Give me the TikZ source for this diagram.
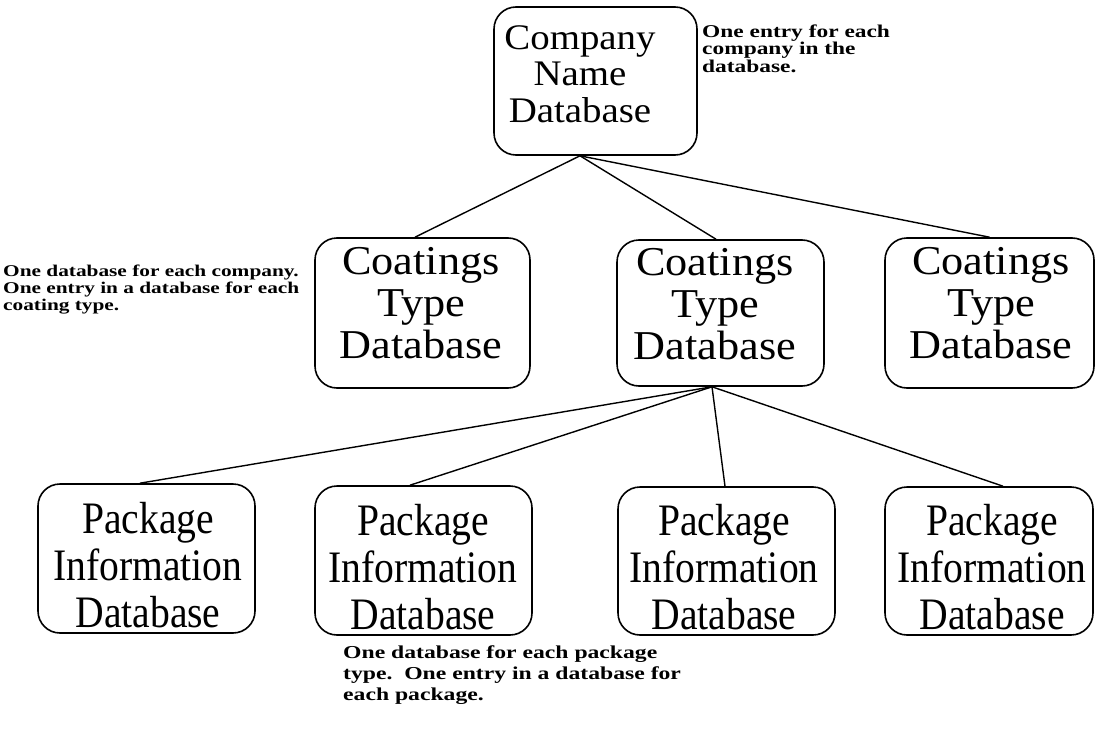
\documentclass[tikz,border=0pt]{standalone}
\usepackage{fontspec}
\setmainfont{Liberation Serif}
\newfontfamily\bigfont[FakeStretch=1.08]{Liberation Serif}
\newfontfamily\pkgfont[FakeStretch=0.88]{Liberation Serif}
\newfontfamily\notefont[FakeStretch=1.3]{Liberation Serif}
\begin{document}
\begin{tikzpicture}[x=1pt,y=-1pt,
  dbbox/.style={draw, line width=1.6pt, rounded corners=22pt, inner sep=0pt},
  link/.style={line width=1.4pt},
  toptxt/.style={font=\bigfont\fontsize{36}{36.5}\selectfont, align=center, inner sep=0pt},
  coattxt/.style={font=\bigfont\fontsize{41}{42}\selectfont, align=center, inner sep=0pt},
  pkgtxt/.style={font=\pkgfont\fontsize{45}{47}\selectfont, align=center, inner sep=0pt},
  notetxt/.style={align=left, inner sep=0pt, anchor=north west}]
\useasboundingbox (0,0) rectangle (1096,736);

% top level
\node[dbbox, minimum width=203pt, minimum height=148pt] (top) at (595.5,81) {};
\node[toptxt] (toplabel) at (580,74) {Company\\Name\\Database};

% coatings level
\node[dbbox, minimum width=215pt, minimum height=150pt] (coatL) at (422.5,313) {};
\node[dbbox, minimum width=207pt, minimum height=146pt] (coatM) at (720.5,313) {};
\node[dbbox, minimum width=209pt, minimum height=150pt] (coatR) at (989.5,313) {};
\node[coattxt] (coatLlabel) at (421,303) {Coatings\\Type\\Database};
\node[coattxt] (coatMlabel) at (715,304) {Coatings\\Type\\Database};
\node[coattxt] (coatRlabel) at (991,303) {Coatings\\Type\\Database};

% package level
\node[dbbox, minimum width=217pt, minimum height=149pt] (pkgA) at (146.5,558.5) {};
\node[dbbox, minimum width=217pt, minimum height=149pt] (pkgB) at (423.5,560.5) {};
\node[dbbox, minimum width=217pt, minimum height=148pt] (pkgC) at (726.5,561) {};
\node[dbbox, minimum width=208pt, minimum height=148pt] (pkgD) at (989,561) {};
\node[pkgtxt] (pkgAlabel) at (148,565) {Package\\Information\\Database};
\node[pkgtxt] (pkgBlabel) at (423,567) {Package\\Information\\Database};
\node[pkgtxt] (pkgClabel) at (724,567) {Package\\Information\\Database};
\node[pkgtxt] (pkgDlabel) at (992,567) {Package\\Information\\Database};

% connectors
\draw[link] ([xshift=-15.5pt]top.south) -- ([xshift=-7.5pt]coatL.north);
\draw[link] ([xshift=-15.5pt]top.south) -- ([xshift=-4.5pt]coatM.north);
\draw[link] ([xshift=-15.5pt]top.south) -- (coatR.north);
\draw[link] ([xshift=-8.5pt]coatM.south) -- ([xshift=-6.5pt]pkgA.north);
\draw[link] ([xshift=-8.5pt]coatM.south) -- ([xshift=-13.5pt]pkgB.north);
\draw[link] ([xshift=-8.5pt]coatM.south) -- ([xshift=-1.5pt]pkgC.north);
\draw[link] ([xshift=-8.5pt]coatM.south) -- ([xshift=14pt]pkgD.north);

% notes
\node[notetxt, font=\notefont\bfseries\fontsize{18}{15.5}\selectfont] (notetop) at (702,24.6)
  {One entry for each\\company in the\\database.};
\node[notetxt, font=\notefont\bfseries\fontsize{16.4}{17}\selectfont] (noteleft) at (3,264.7)
  {One database for each company.\\One entry in a database for each\\coating type.};
\node[notetxt, font=\notefont\bfseries\fontsize{18.2}{21}\selectfont] (notebottom) at (343,645.5)
  {One database for each package\\type.\ \ One entry in a database for\\each package.};
\end{tikzpicture}
\end{document}
